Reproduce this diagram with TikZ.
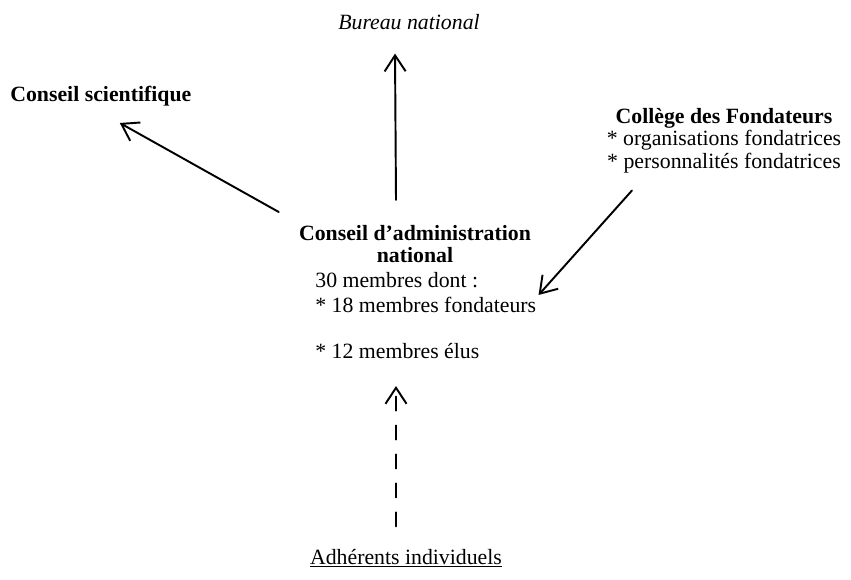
\documentclass[tikz,border=0pt]{standalone}
\usepackage{fontspec}
\setmainfont{Liberation Serif}
\usetikzlibrary{arrows.meta,calc}

\begin{document}
\begin{tikzpicture}[x=0.02cm, y=-0.02cm,
    txt/.style={inner sep=0pt, font=\fontsize{12.4}{13.6}\selectfont},
    hd/.style={inner sep=0pt, font=\fontsize{12.4}{12.5}\selectfont\bfseries},
    arr/.style={-{Straight Barb[length=3.2mm, width=4.2mm]}, line width=1.1pt, line cap=round},
    dsh/.style={arr, dash pattern=on 8pt off 8.5pt}
]
\useasboundingbox (0,0) rectangle (851,580);

% Top and side boxes
\node[txt, font=\fontsize{12.4}{13.6}\selectfont\itshape, anchor=base] (bureau) at (409,30) {Bureau national};
\node[hd, anchor=base west] (sci) at (10,102) {Conseil scientifique};
\node[txt, font=\fontsize{12.4}{12.8}\selectfont, align=center, anchor=north] (college) at (724,108)
    {\textbf{Collège des Fondateurs}\\ * organisations fondatrices\\ * personnalités fondatrices};

% Central council
\node[hd, align=center, anchor=north] (catitle) at (415,225) {Conseil d'administration\\ national};
\node[txt, font=\fontsize{12.4}{14.2}\selectfont, align=left, anchor=north west] (cabody) at (315,272)
    {30 membres dont :\\ * 18 membres fondateurs\\[12pt] * 12 membres élus};

% Members
\node[txt, anchor=base] (adh) at (406,564) {\underline{Adhérents individuels}};

% Arrows
\coordinate (upfoot) at ($(catitle.north)+(-19,-25)$);
\coordinate (scfoot) at ($(catitle.north west)+(-20,-13)$);
\coordinate (colfoot) at ($(college.south)+(-92,17)$);
\coordinate (adhfoot) at ($(adh.north)+(-10,-22)$);
\draw[arr] (upfoot) -- ($(bureau.south)+(-14,23)$);
\draw[arr] (scfoot) -- ($(sci.south)+(19,16)$);
\draw[arr] (colfoot) -- ($(cabody.north east)+(2,23)$);
\draw[dsh] (adhfoot) -- (adhfoot |- {$(cabody.south)+(0,27)$});
\end{tikzpicture}
\end{document}
